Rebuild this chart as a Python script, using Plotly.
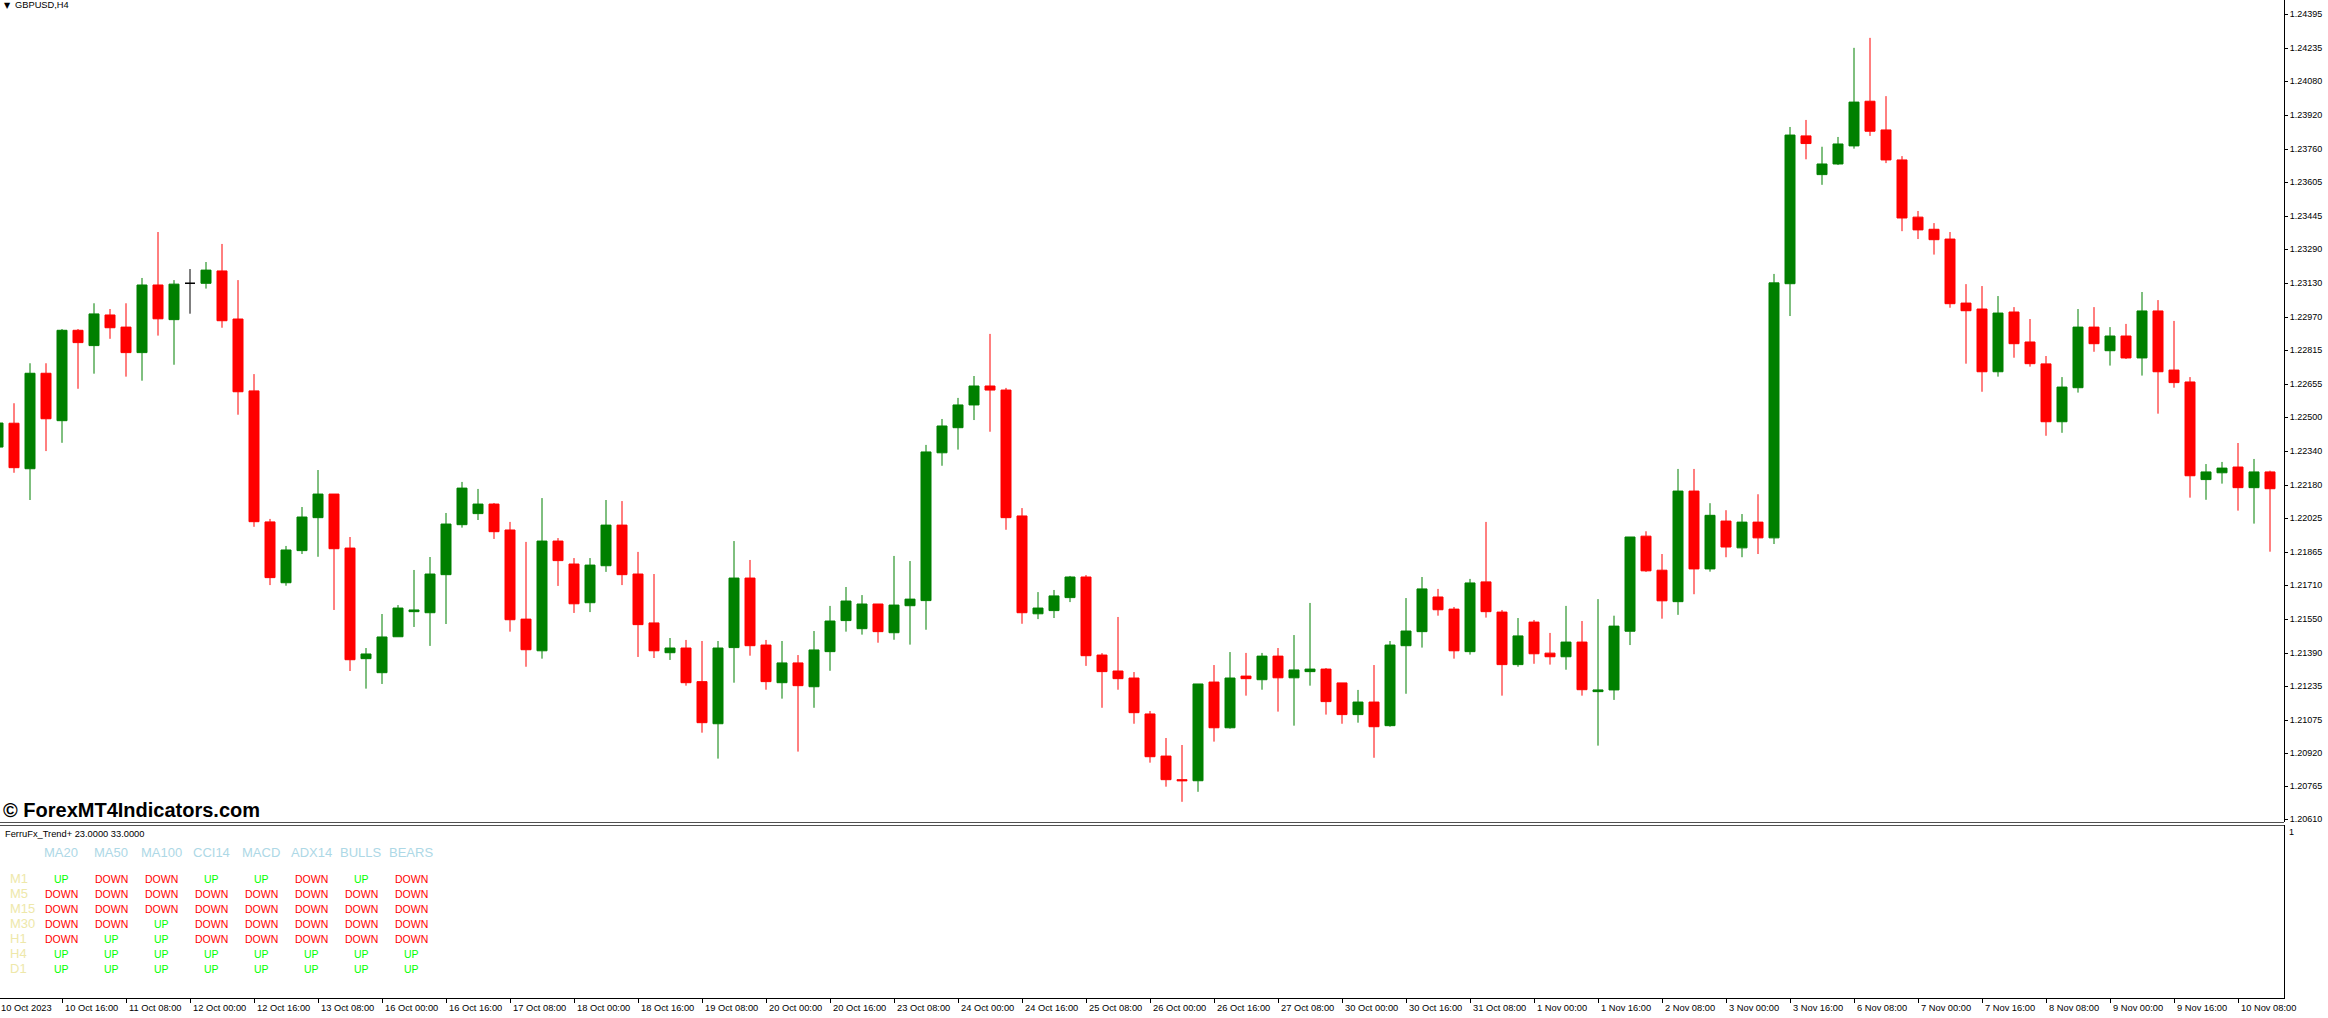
import plotly.graph_objects as go

W, H = 2328, 1018

OPEN = [1.22359, 1.22471, 1.22257, 1.22706, 1.22483, 1.22908, 1.22836, 1.22980, 1.22923, 1.22803,
        1.23121, 1.22958, 1.23129, 1.23129, 1.23187, 1.22961, 1.22623, 1.22007, 1.21721, 1.21872,
        1.22027, 1.22138, 1.21884, 1.21364, 1.21298, 1.21467, 1.21585, 1.21580, 1.21759, 1.21994,
        1.22046, 1.22091, 1.21969, 1.21550, 1.21401, 1.21917, 1.21809, 1.21627, 1.21801, 1.21992,
        1.21762, 1.21532, 1.21392, 1.21414, 1.21256, 1.21058, 1.21416, 1.21743, 1.21428, 1.21251,
        1.21344, 1.21232, 1.21397, 1.21543, 1.21505, 1.21621, 1.21486, 1.21613, 1.21637, 1.22332,
        1.22450, 1.22557, 1.22646, 1.22627, 1.22035, 1.21575, 1.21590, 1.21651, 1.21748, 1.21381,
        1.21306, 1.21273, 1.21104, 1.20906, 1.20795, 1.20790, 1.21254, 1.21039, 1.21282, 1.21265,
        1.21376, 1.21274, 1.21303, 1.21315, 1.21250, 1.21101, 1.21160, 1.21049, 1.21425, 1.21491,
        1.21654, 1.21597, 1.21397, 1.21725, 1.21583, 1.21336, 1.21536, 1.21390, 1.21373, 1.21442,
        1.21209, 1.21217, 1.21493, 1.21940, 1.21780, 1.21632, 1.22152, 1.21786, 1.22011, 1.21885,
        1.22006, 1.21932, 1.23127, 1.23822, 1.23640, 1.23690, 1.23775, 1.23985, 1.23850, 1.23709,
        1.23440, 1.23383, 1.23337, 1.23036, 1.23008, 1.22713, 1.22994, 1.22853, 1.22750, 1.22478,
        1.22638, 1.22923, 1.22812, 1.22881, 1.22778, 1.22999, 1.22721, 1.22665, 1.22206, 1.22238,
        1.22265, 1.22168, 1.22242]
HIGH = [1.22510, 1.22565, 1.22753, 1.22753, 1.22914, 1.22914, 1.23035, 1.23008, 1.23035, 1.23154,
        1.23370, 1.23144, 1.23196, 1.23229, 1.23314, 1.23144, 1.22702, 1.22021, 1.21894, 1.22077,
        1.22251, 1.22138, 1.21936, 1.21414, 1.21574, 1.21616, 1.21781, 1.21842, 1.22049, 1.22195,
        1.22162, 1.22096, 1.22007, 1.21913, 1.22119, 1.21931, 1.21837, 1.21837, 1.22110, 1.22105,
        1.21866, 1.21762, 1.21461, 1.21452, 1.21447, 1.21447, 1.21917, 1.21828, 1.21452, 1.21447,
        1.21381, 1.21494, 1.21612, 1.21701, 1.21663, 1.21621, 1.21847, 1.21823, 1.22369, 1.22491,
        1.22590, 1.22693, 1.22891, 1.22637, 1.22072, 1.21677, 1.21687, 1.21753, 1.21757, 1.21390,
        1.21560, 1.21301, 1.21118, 1.20991, 1.20958, 1.21245, 1.21334, 1.21395, 1.21391, 1.21391,
        1.21414, 1.21475, 1.21626, 1.21320, 1.21250, 1.21217, 1.21334, 1.21447, 1.21649, 1.21748,
        1.21692, 1.21607, 1.21739, 1.22007, 1.21593, 1.21555, 1.21546, 1.21485, 1.21612, 1.21541,
        1.21644, 1.21566, 1.21936, 1.21963, 1.21856, 1.22256, 1.22256, 1.22095, 1.22062, 1.22044,
        1.22137, 1.23173, 1.23864, 1.23897, 1.23771, 1.23817, 1.24236, 1.24283, 1.24009, 1.23727,
        1.23469, 1.23412, 1.23370, 1.23125, 1.23116, 1.23069, 1.23017, 1.22961, 1.22787, 1.22688,
        1.23008, 1.23017, 1.22923, 1.22938, 1.23088, 1.23050, 1.22952, 1.22688, 1.22279, 1.22289,
        1.22378, 1.22303, 1.22248]
LOW = [1.22275, 1.22238, 1.22110, 1.22340, 1.22379, 1.22633, 1.22704, 1.22868, 1.22690, 1.22671,
       1.22883, 1.22746, 1.22986, 1.23104, 1.22920, 1.22511, 1.21984, 1.21710, 1.21707, 1.21856,
       1.21843, 1.21593, 1.21306, 1.21223, 1.21245, 1.21467, 1.21513, 1.21424, 1.21527, 1.21980,
       1.22016, 1.21927, 1.21491, 1.21326, 1.21364, 1.21706, 1.21579, 1.21583, 1.21772, 1.21710,
       1.21372, 1.21367, 1.21358, 1.21237, 1.21016, 1.20894, 1.21251, 1.21378, 1.21218, 1.21176,
       1.20927, 1.21133, 1.21307, 1.21491, 1.21477, 1.21439, 1.21453, 1.21430, 1.21500, 1.22271,
       1.22347, 1.22486, 1.22431, 1.21970, 1.21528, 1.21550, 1.21555, 1.21630, 1.21330, 1.21133,
       1.21218, 1.21058, 1.20875, 1.20762, 1.20691, 1.20738, 1.20974, 1.21035, 1.21190, 1.21218,
       1.21115, 1.21049, 1.21237, 1.21101, 1.21058, 1.21063, 1.20898, 1.21044, 1.21199, 1.21416,
       1.21566, 1.21364, 1.21383, 1.21557, 1.21190, 1.21326, 1.21340, 1.21336, 1.21312, 1.21190,
       1.20955, 1.21170, 1.21428, 1.21772, 1.21552, 1.21570, 1.21667, 1.21773, 1.21841, 1.21841,
       1.21856, 1.21903, 1.22975, 1.23712, 1.23592, 1.23685, 1.23762, 1.23822, 1.23694, 1.23374,
       1.23337, 1.23264, 1.23014, 1.22751, 1.22619, 1.22690, 1.22779, 1.22737, 1.22412, 1.22426,
       1.22615, 1.22807, 1.22742, 1.22773, 1.22695, 1.22516, 1.22638, 1.22121, 1.22111, 1.22187,
       1.22060, 1.21999, 1.21867]
CLOSE = [1.22472, 1.22262, 1.22706, 1.22492, 1.22908, 1.22850, 1.22985, 1.22920, 1.22803, 1.23121,
         1.22962, 1.23125, 1.23129, 1.23191, 1.22953, 1.22619, 1.22008, 1.21745, 1.21875, 1.22030,
         1.22138, 1.21881, 1.21359, 1.21386, 1.21466, 1.21602, 1.21593, 1.21762, 1.21997, 1.22166,
         1.22091, 1.21961, 1.21547, 1.21406, 1.21917, 1.21825, 1.21622, 1.21804, 1.21992, 1.21759,
         1.21524, 1.21401, 1.21414, 1.21251, 1.21063, 1.21414, 1.21743, 1.21425, 1.21256, 1.21344,
         1.21237, 1.21405, 1.21541, 1.21635, 1.21621, 1.21491, 1.21616, 1.21644, 1.22336, 1.22458,
         1.22557, 1.22646, 1.22627, 1.22027, 1.21580, 1.21602, 1.21659, 1.21748, 1.21378, 1.21303,
         1.21270, 1.21110, 1.20903, 1.20795, 1.20790, 1.21245, 1.21039, 1.21273, 1.21270, 1.21376,
         1.21274, 1.21311, 1.21315, 1.21162, 1.21101, 1.21160, 1.21044, 1.21428, 1.21494, 1.21692,
         1.21594, 1.21401, 1.21720, 1.21585, 1.21336, 1.21471, 1.21387, 1.21373, 1.21442, 1.21218,
         1.21217, 1.21517, 1.21936, 1.21777, 1.21636, 1.22152, 1.21786, 1.22038, 1.21889, 1.22006,
         1.21932, 1.23131, 1.23826, 1.23786, 1.23690, 1.23784, 1.23981, 1.23844, 1.23709, 1.23436,
         1.23380, 1.23334, 1.23033, 1.23000, 1.22713, 1.22989, 1.22845, 1.22751, 1.22478, 1.22641,
         1.22923, 1.22845, 1.22881, 1.22778, 1.22999, 1.22713, 1.22662, 1.22224, 1.22242, 1.22260,
         1.22168, 1.22242, 1.22163]

TIME_LABELS = ["10 Oct 2023", "10 Oct 16:00", "11 Oct 08:00", "12 Oct 00:00", "12 Oct 16:00",
               "13 Oct 08:00", "16 Oct 00:00", "16 Oct 16:00", "17 Oct 08:00", "18 Oct 00:00",
               "18 Oct 16:00", "19 Oct 08:00", "20 Oct 00:00", "20 Oct 16:00", "23 Oct 08:00",
               "24 Oct 00:00", "24 Oct 16:00", "25 Oct 08:00", "26 Oct 00:00", "26 Oct 16:00",
               "27 Oct 08:00", "30 Oct 00:00", "30 Oct 16:00", "31 Oct 08:00", "1 Nov 00:00",
               "1 Nov 16:00", "2 Nov 08:00", "3 Nov 00:00", "3 Nov 16:00", "6 Nov 08:00",
               "7 Nov 00:00", "7 Nov 16:00", "8 Nov 08:00", "9 Nov 00:00", "9 Nov 16:00",
               "10 Nov 08:00"]
BARS_PER_LABEL = 4

PRICE_TICKS = [1.24395, 1.24235, 1.24080, 1.23920, 1.23760, 1.23605, 1.23445, 1.23290, 1.23130,
               1.22970, 1.22815, 1.22655, 1.22500, 1.22340, 1.22180, 1.22025, 1.21865, 1.21710,
               1.21550, 1.21390, 1.21235, 1.21075, 1.20920, 1.20765, 1.20610]
PRICE_LABELS = ["1.24395", "1.24235", "1.24080", "1.23920", "1.23760", "1.23605", "1.23445",
                "1.23290", "1.23130", "1.22970", "1.22815", "1.22655", "1.22500", "1.22340",
                "1.22180", "1.22025", "1.21865", "1.21710", "1.21550", "1.21390", "1.21235",
                "1.21075", "1.20920", "1.20765", "1.20610"]
PRICE_RANGE = [1.20596, 1.24461]

IND_COLS = ["MA20", "MA50", "MA100", "CCI14", "MACD", "ADX14", "BULLS", "BEARS"]
IND_ROWS = ["M1", "M5", "M15", "M30", "H1", "H4", "D1"]
SIGNALS = [
    ["UP", "DOWN", "DOWN", "UP", "UP", "DOWN", "UP", "DOWN"],
    ["DOWN", "DOWN", "DOWN", "DOWN", "DOWN", "DOWN", "DOWN", "DOWN"],
    ["DOWN", "DOWN", "DOWN", "DOWN", "DOWN", "DOWN", "DOWN", "DOWN"],
    ["DOWN", "DOWN", "UP", "DOWN", "DOWN", "DOWN", "DOWN", "DOWN"],
    ["DOWN", "UP", "UP", "DOWN", "DOWN", "DOWN", "DOWN", "DOWN"],
    ["UP", "UP", "UP", "UP", "UP", "UP", "UP", "UP"],
    ["UP", "UP", "UP", "UP", "UP", "UP", "UP", "UP"],
]

GREEN = "#008000"
RED = "#FF0000"
FONT = "Liberation Sans, Arial, sans-serif"


def px(x):
    return x / W


def py(y):
    return 1 - y / H


n = len(OPEN)
idx = list(range(n))
normal = [i for i in idx if OPEN[i] != CLOSE[i]]
doji = [i for i in idx if OPEN[i] == CLOSE[i]]

fig = go.Figure()
fig.add_trace(go.Candlestick(
    x=normal,
    open=[OPEN[i] for i in normal], high=[HIGH[i] for i in normal],
    low=[LOW[i] for i in normal], close=[CLOSE[i] for i in normal],
    increasing=dict(line=dict(color=GREEN, width=1), fillcolor=GREEN),
    decreasing=dict(line=dict(color=RED, width=1), fillcolor=RED),
    whiskerwidth=0, showlegend=False, hoverinfo="skip", xaxis="x", yaxis="y"))
fig.add_trace(go.Candlestick(
    x=doji,
    open=[OPEN[i] for i in doji], high=[HIGH[i] for i in doji],
    low=[LOW[i] for i in doji], close=[CLOSE[i] for i in doji],
    increasing=dict(line=dict(color="black", width=1), fillcolor="black"),
    decreasing=dict(line=dict(color="black", width=1), fillcolor="black"),
    whiskerwidth=0, showlegend=False, hoverinfo="skip", xaxis="x", yaxis="y"))
fig.add_trace(go.Scatter(x=[1], y=[0.5], xaxis="x2", yaxis="y2", mode="markers",
                         marker=dict(opacity=0), showlegend=False, hoverinfo="skip"))

xr = [0.125, 142.875]
xdom = [0, px(2284)]
label_bars = [k * BARS_PER_LABEL for k in range(len(TIME_LABELS))]

fig.update_layout(
    width=W, height=H, margin=dict(l=0, r=0, t=0, b=0, pad=0),
    paper_bgcolor="white", plot_bgcolor="white", showlegend=False,
    boxgap=0.375, boxgroupgap=0,
    xaxis=dict(domain=xdom, range=xr, autorange=False, showgrid=False, zeroline=False,
               showticklabels=False, ticks="", showline=False,
               rangeslider=dict(visible=False), anchor="y", fixedrange=True),
    yaxis=dict(domain=[py(822), 1], range=PRICE_RANGE, autorange=False, side="right",
               anchor="x", tickmode="array", tickvals=PRICE_TICKS, ticktext=PRICE_LABELS,
               ticks="outside", ticklen=3, tickcolor="black", tickwidth=1, showline=True,
               linecolor="black", linewidth=1, showgrid=False, zeroline=False,
               automargin=False, tickfont=dict(family=FONT, size=9, color="black")),
    xaxis2=dict(domain=xdom, range=xr, autorange=False, anchor="y2", tickmode="array",
                tickvals=label_bars, showticklabels=False, ticks="outside", ticklen=4,
                tickcolor="black", showline=True, linecolor="black", linewidth=1,
                showgrid=False, zeroline=False),
    yaxis2=dict(domain=[py(998), py(825)], range=[0, 1], autorange=False, side="right",
                anchor="x2", showline=True, linecolor="black", linewidth=1,
                showticklabels=False, ticks="", showgrid=False, zeroline=False),
)

shapes = []
for yy in (822.5, 825.5):
    shapes.append(dict(type="line", xref="paper", yref="paper", x0=0, x1=px(2284),
                       y0=py(yy), y1=py(yy), line=dict(color="#505050", width=1)))
fig.update_layout(shapes=shapes)

ann = []
# time labels (left-aligned just right of their tick, MT4 style)
for b, t in zip(label_bars, TIME_LABELS):
    xa = max(b, xr[0])
    shift = 1 + (b - xa) * 16
    ann.append(dict(x=xa, y=py(1008), xref="x2", yref="paper", text=t, showarrow=False,
                    xanchor="left", yanchor="middle", xshift=shift,
                    font=dict(family=FONT, size=9.3, color="black")))
# title
ann.append(dict(x=px(2), y=py(5), xref="paper", yref="paper", text="▼", showarrow=False,
                xanchor="left", yanchor="middle",
                font=dict(family="DejaVu Sans", size=8, color="black")))
ann.append(dict(x=px(13), y=py(5), xref="paper", yref="paper", text="GBPUSD,H4",
                showarrow=False, xanchor="left", yanchor="middle",
                font=dict(family=FONT, size=9.3, color="black")))
# watermark
ann.append(dict(x=px(1), y=py(810), xref="paper", yref="paper",
                text="<b>© ForexMT4Indicators.com</b>", showarrow=False,
                xanchor="left", yanchor="middle",
                font=dict(family=FONT, size=20, color="black")))
# indicator title
ann.append(dict(x=px(3), y=py(834), xref="paper", yref="paper",
                text="FerruFx_Trend+ 23.0000 33.0000", showarrow=False,
                xanchor="left", yanchor="middle",
                font=dict(family=FONT, size=9.3, color="black")))
ann.append(dict(x=px(2287), y=py(832), xref="paper", yref="paper", text="1",
                showarrow=False, xanchor="left", yanchor="middle",
                font=dict(family=FONT, size=9, color="black")))
# table
for j, c in enumerate(IND_COLS):
    ann.append(dict(x=px(61 + 50 * j), y=py(852), xref="paper", yref="paper", text=c,
                    showarrow=False, xanchor="center", yanchor="middle",
                    font=dict(family=FONT, size=13, color="#ADD8E6")))
for r, rname in enumerate(IND_ROWS):
    yy = 878.7 + 15 * r
    ann.append(dict(x=px(8), y=py(yy), xref="paper", yref="paper", text=rname,
                    showarrow=False, xanchor="left", yanchor="middle",
                    font=dict(family=FONT, size=13, color="#EEE8AA")))
    for j, s in enumerate(SIGNALS[r]):
        ann.append(dict(x=px(61 + 50 * j), y=py(yy), xref="paper", yref="paper", text=s,
                        showarrow=False, xanchor="center", yanchor="middle",
                        font=dict(family=FONT, size=10.5,
                                  color="#00FF00" if s == "UP" else "#FF0000")))
fig.update_layout(annotations=ann)

fig.write_html(
    "out.html",
    config={"displayModeBar": False},
    post_script="document.body.style.margin='0';document.body.style.padding='0';"
                "document.body.style.overflow='hidden';"
                "document.documentElement.style.overflow='hidden';",
)
